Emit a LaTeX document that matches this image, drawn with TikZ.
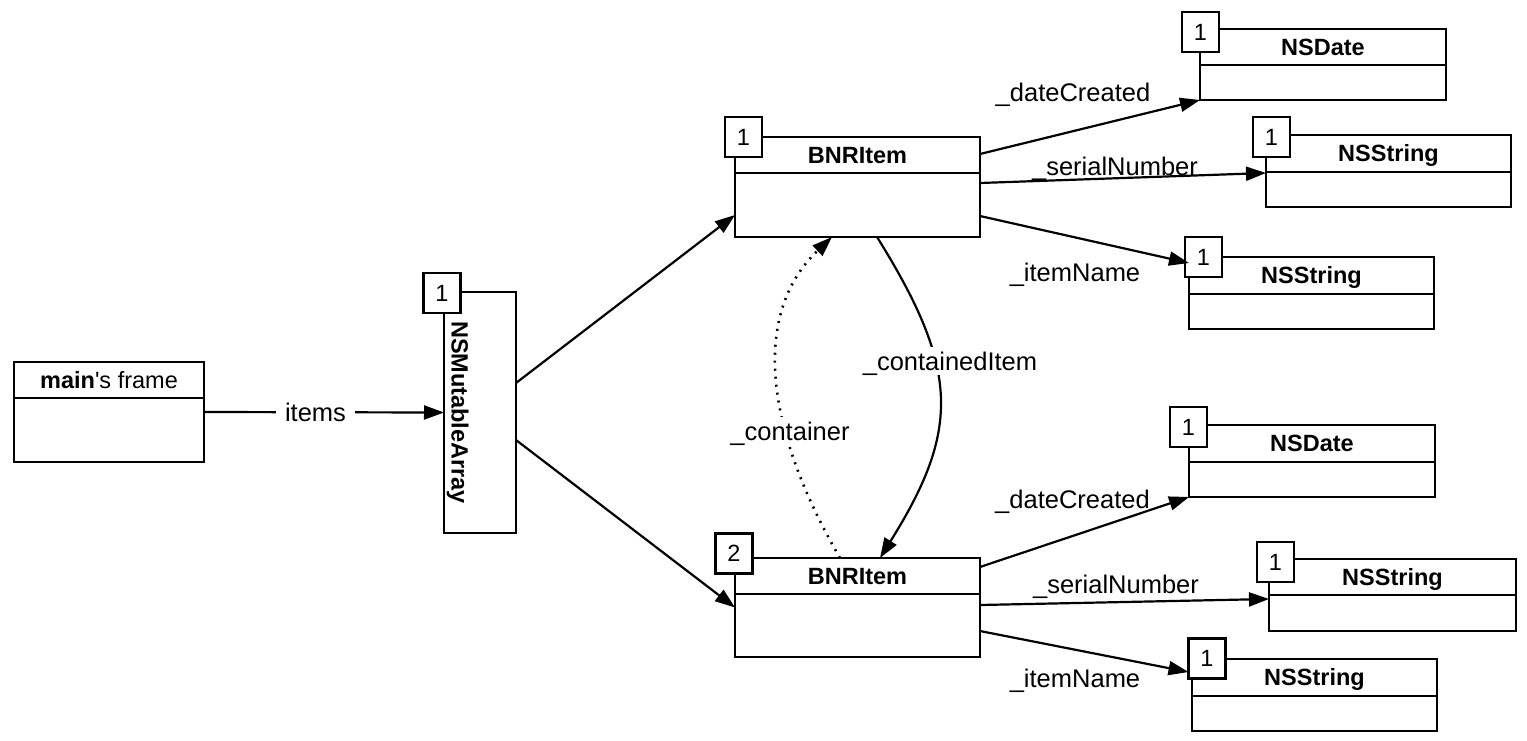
\documentclass[tikz,border=0pt]{standalone}
\usepackage{fontspec}
\setmainfont{Liberation Sans}[Ligatures=TeXOff]
\usetikzlibrary{arrows.meta}

\newcommand\boxfont{\fontsize{23.5}{28}\selectfont}
\newcommand\lblfont{\fontsize{25.5}{30}\selectfont}

\tikzset{
  rule/.style={line width=2.2pt},
  objbox/.style={draw, rule, fill=white, inner sep=0pt, outer sep=0pt, anchor=north west},
  badge/.style={draw, rule, fill=white, minimum width=37pt, minimum height=40pt,
                inner sep=0pt, outer sep=0pt, font=\boxfont},
  title/.style={font=\boxfont, inner sep=0pt, text height=16.8pt, text depth=0pt},
  lbl/.style={font=\lblfont, inner sep=0pt, text height=18.3pt, text depth=0pt},
  gap/.style={lbl, fill=white, inner xsep=9pt, inner ysep=5pt},
  ref/.style={line width=2.2pt, -{Triangle[length=20pt,width=14pt]}},
  weakref/.style={ref, line width=2.6pt, dash pattern=on 2pt off 6pt},
}

% object box: name, top-left corner, width, height, header height, title
\newcommand\objbox[6]{%
  \node[objbox, minimum width=#3pt, minimum height=#4pt] (#1) at (#2) {};
  \draw[rule] ([yshift=-#5pt]#1.north west) -- ([yshift=-#5pt]#1.north east);
  \path ([yshift=-#5pt]#1.north) -- node[title] (#1-title) {#6} (#1.north);
}

\begin{document}
\begin{tikzpicture}[x=1pt, y=-1pt]
\useasboundingbox (0,0) rectangle (1527,740);

% stack frame and the array
\objbox{mf}{14,362}{190}{100}{36}{\textbf{main}'s frame}
\node[objbox, minimum width=72pt, minimum height=241pt] (ma) at (444,292) {};
\node[title, rotate=-90] (ma-title) at (460,412.5) {\textbf{NSMutableArray}};

% items and their instance variables
\objbox{bt}{735,137}{245}{100}{36}{\textbf{BNRItem}}
\objbox{bb}{735,558}{245}{99}{36}{\textbf{BNRItem}}
\objbox{d1}{1200,29}{246}{71}{36}{\textbf{NSDate}}
\objbox{s1}{1266,135}{245}{72}{37}{\textbf{NSString}}
\objbox{s2}{1189,257}{245}{72}{37}{\textbf{NSString}}
\objbox{d2}{1189,425}{246}{72}{37}{\textbf{NSDate}}
\objbox{s3}{1269,559}{247}{72}{36}{\textbf{NSString}}
\objbox{s4}{1192,659}{245}{72}{37}{\textbf{NSString}}

% retain counts
\node[badge] (ma-rc) at (442,293) {1};
\node[badge] (bt-rc) at (743.5,137) {1};
\node[badge] (bb-rc) at (734,553.5) {2};
\node[badge] (d1-rc) at (1200.5,32) {1};
\node[badge] (s1-rc) at (1271.5,137) {1};
\node[badge] (s2-rc) at (1203.5,257) {1};
\node[badge] (d2-rc) at (1188.5,427) {1};
\node[badge] (s3-rc) at (1275.5,562) {1};
\node[badge] (s4-rc) at (1207,658.5) {1};

% pointers
\draw[ref] (mf.east) -- (ma.west);
\node[gap] (items) at (315.5,412) {items};

\draw[ref] ([yshift=29.5pt]ma.east) -- ([yshift=-28pt]bt.west);
\draw[ref] ([yshift=-27.5pt]ma.east) -- (bb.west);

\draw[ref] ([yshift=33pt]bt.east) -- (d1.south west);
\draw[ref] ([yshift=4pt]bt.east) -- ([yshift=-2pt]s1.west);
\draw[ref] ([yshift=-29pt]bt.east) -- ([yshift=-6pt]s2.north west);

\draw[ref] ([yshift=40.5pt]bb.east) -- (d2.south west);
\draw[ref] ([yshift=2.5pt]bb.east) -- ([yshift=-4pt]s3.west);
\draw[ref] ([yshift=-23.5pt]bb.east) -- ([yshift=-13.5pt]s4-rc.west);

\node[lbl] (l-dc1) at (1073,92) {\_dateCreated};
\node[lbl] (l-sn1) at (1115,166) {\_serialNumber};
\node[lbl] (l-in1) at (1075,272) {\_itemName};
\node[lbl] (l-dc2) at (1072.5,499) {\_dateCreated};
\node[lbl] (l-sn2) at (1116,584) {\_serialNumber};
\node[lbl] (l-in2) at (1075,678) {\_itemName};

% strong and weak links between the two items
\draw[ref] ([xshift=19.5pt]bt.south) .. controls (960,370) and (960,430) .. ([xshift=22.5pt]bb.north);
\draw[weakref] ([xshift=-17.5pt]bb.north) .. controls (760,420) and (755,310) .. ([xshift=-25.5pt]bt.south);
\node[gap] (l-ci) at (950,361) {\_containedItem};
\node[gap] (l-co) at (790,431) {\_container};

\end{tikzpicture}
\end{document}
